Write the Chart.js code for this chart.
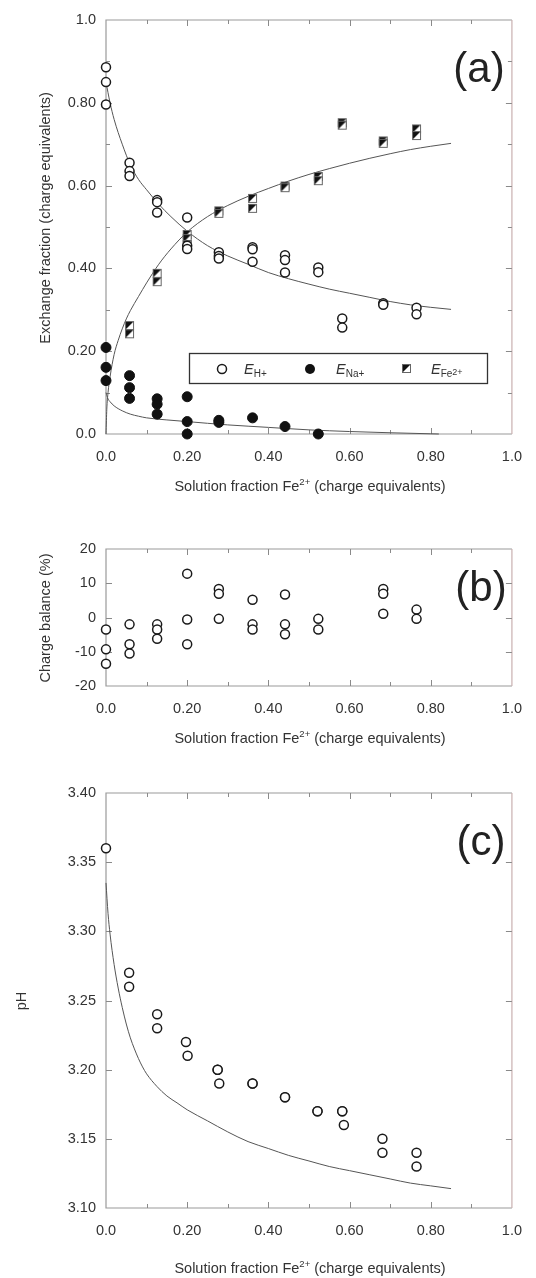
<!DOCTYPE html>
<html>
<head>
<meta charset="utf-8">
<script src="https://cdn.jsdelivr.net/npm/chart.js@4.4.0/dist/chart.umd.min.js"></script>
<style>
  body { margin: 0; background: #fff; width: 536px; height: 1278px; position: relative; overflow: hidden; }
  canvas { position: absolute; left: 0; }
</style>
</head>
<body>
<canvas id="chartA" width="536" height="500" style="top:0px"></canvas>
<canvas id="chartB" width="536" height="250" style="top:500px"></canvas>
<canvas id="chartC" width="536" height="528" style="top:750px"></canvas>
<script>
// tick labels
const xTickLabels = ["0.0", "0.20", "0.40", "0.60", "0.80", "1.0"];
const yTickLabelsA = ["0.0", "0.20", "0.40", "0.60", "0.80", "1.0"];
const yTickLabelsB = ["-20", "-10", "0", "10", "20"];
const yTickLabelsC = ["3.10", "3.15", "3.20", "3.25", "3.30", "3.35", "3.40"];

// (a) exchange fractions, measured
const hX = [0, 0, 0, 0.058, 0.058, 0.058, 0.126, 0.126, 0.126, 0.2, 0.2, 0.2, 0.278, 0.278, 0.278, 0.361, 0.361, 0.361, 0.441, 0.441, 0.441, 0.523, 0.523, 0.582, 0.582, 0.683, 0.683, 0.765, 0.765];
const hY = [0.886, 0.850, 0.796, 0.655, 0.635, 0.623, 0.565, 0.560, 0.535, 0.523, 0.455, 0.447, 0.439, 0.430, 0.424, 0.451, 0.446, 0.416, 0.432, 0.420, 0.390, 0.402, 0.391, 0.279, 0.257, 0.316, 0.312, 0.305, 0.289];
const naX = [0, 0, 0, 0.058, 0.058, 0.058, 0.126, 0.126, 0.126, 0.2, 0.2, 0.2, 0.278, 0.278, 0.361, 0.441, 0.523];
const naY = [0.209, 0.161, 0.129, 0.141, 0.112, 0.086, 0.085, 0.072, 0.048, 0.090, 0.030, 0.0, 0.033, 0.028, 0.039, 0.018, 0.0];
const feX = [0.058, 0.058, 0.126, 0.126, 0.2, 0.2, 0.2, 0.278, 0.278, 0.361, 0.361, 0.441, 0.441, 0.523, 0.523, 0.582, 0.582, 0.683, 0.683, 0.765, 0.765];
const feY = [0.262, 0.242, 0.388, 0.368, 0.482, 0.472, 0.458, 0.539, 0.533, 0.569, 0.545, 0.599, 0.595, 0.622, 0.612, 0.752, 0.746, 0.708, 0.702, 0.737, 0.721];

// (a) model curves
const hCurveX = [0, 0.01, 0.02, 0.04, 0.06, 0.08, 0.1, 0.13, 0.16, 0.2, 0.25, 0.3, 0.35, 0.4, 0.45, 0.5, 0.55, 0.6, 0.65, 0.7, 0.75, 0.8, 0.85];
const hCurveY = [0.85, 0.80, 0.76, 0.70, 0.65, 0.615, 0.59, 0.555, 0.525, 0.49, 0.455, 0.43, 0.41, 0.39, 0.375, 0.362, 0.35, 0.34, 0.33, 0.32, 0.312, 0.306, 0.301];
const feCurveX = [0, 0.002, 0.005, 0.01, 0.02, 0.03, 0.04, 0.05, 0.06, 0.08, 0.1, 0.13, 0.16, 0.2, 0.25, 0.3, 0.35, 0.4, 0.45, 0.5, 0.55, 0.6, 0.65, 0.7, 0.75, 0.8, 0.85];
const feCurveY = [0, 0.06, 0.1, 0.138, 0.192, 0.226, 0.254, 0.278, 0.298, 0.332, 0.365, 0.41, 0.447, 0.488, 0.525, 0.552, 0.574, 0.593, 0.611, 0.627, 0.641, 0.654, 0.666, 0.677, 0.687, 0.695, 0.702];
const naCurveX = [0, 0.005, 0.01, 0.02, 0.04, 0.06, 0.08, 0.1, 0.15, 0.2, 0.3, 0.4, 0.5, 0.6, 0.7, 0.8, 0.82];
const naCurveY = [0.1, 0.085, 0.078, 0.068, 0.056, 0.048, 0.043, 0.039, 0.034, 0.03, 0.022, 0.016, 0.01, 0.006, 0.003, 0.0005, 0];

// (b) charge balance
const cbX = [0, 0, 0, 0.058, 0.058, 0.058, 0.126, 0.126, 0.126, 0.2, 0.2, 0.2, 0.278, 0.278, 0.278, 0.361, 0.361, 0.361, 0.441, 0.441, 0.441, 0.523, 0.523, 0.683, 0.683, 0.683, 0.765, 0.765];
const cbY = [-3.5, -9.3, -13.5, -2.0, -7.8, -10.5, -2.0, -3.5, -6.2, 12.8, -0.6, -7.8, 8.3, 6.9, -0.4, 5.2, -2.0, -3.5, 6.7, -2.0, -4.9, -0.4, -3.5, 8.3, 6.9, 1.1, 2.3, -0.4];

// (c) pH
const phX = [0, 0.057, 0.057, 0.126, 0.126, 0.197, 0.201, 0.275, 0.275, 0.279, 0.361, 0.361, 0.441, 0.441, 0.521, 0.521, 0.582, 0.582, 0.586, 0.681, 0.681, 0.765, 0.765];
const phY = [3.36, 3.27, 3.26, 3.24, 3.23, 3.22, 3.21, 3.20, 3.20, 3.19, 3.19, 3.19, 3.18, 3.18, 3.17, 3.17, 3.17, 3.17, 3.16, 3.15, 3.14, 3.14, 3.13];
const phCurveX = [0, 0.005, 0.01, 0.02, 0.03, 0.04, 0.05, 0.06, 0.07, 0.08, 0.09, 0.1, 0.125, 0.15, 0.175, 0.2, 0.25, 0.3, 0.35, 0.4, 0.45, 0.5, 0.55, 0.6, 0.65, 0.7, 0.75, 0.8, 0.85];
const phCurveY = [3.335, 3.313, 3.298, 3.276, 3.259, 3.245, 3.233, 3.223, 3.215, 3.208, 3.202, 3.197, 3.188, 3.181, 3.176, 3.171, 3.163, 3.155, 3.148, 3.143, 3.138, 3.134, 3.13, 3.127, 3.124, 3.121, 3.118, 3.116, 3.114];

const FONT = '"Liberation Sans", Arial, sans-serif';
const TXT = '#333';

function pts(xs, ys) {
  return xs.map((x, i) => ({ x: x, y: ys[i] }));
}

// half filled square for Fe2+
function feMarker() {
  const c = document.createElement('canvas');
  c.width = 11; c.height = 11;
  const g = c.getContext('2d');
  g.fillStyle = '#fff';
  g.fillRect(1, 1, 9, 9);
  g.fillStyle = '#111';
  g.beginPath(); g.moveTo(1, 1); g.lineTo(10, 1); g.lineTo(1, 10); g.closePath(); g.fill();
  g.strokeStyle = '#666'; g.lineWidth = 1;
  g.strokeRect(1.5, 1.5, 8, 8);
  return c;
}
const feImg = feMarker();

function openPts(data) {
  return { data: data, pointStyle: 'circle', pointRadius: 4.5, borderWidth: 1.5, borderColor: '#1a1a1a', backgroundColor: '#fff', order: 1, clip: false };
}
function curve(data) {
  return { data: data, showLine: true, pointRadius: 0, borderWidth: 1, borderColor: '#555', cubicInterpolationMode: 'monotone', order: 5, clip: false };
}

// text with a raised / lowered part
function drawRich(ctx, parts, x, y, align) {
  let w = 0;
  parts.forEach(p => { ctx.font = p.style + ' ' + p.size + 'px ' + FONT; w += ctx.measureText(p.t).width; });
  let cx = align === 'center' ? x - w / 2 : x;
  parts.forEach(p => {
    ctx.font = p.style + ' ' + p.size + 'px ' + FONT;
    ctx.fillText(p.t, cx, y + p.dy);
    cx += ctx.measureText(p.t).width;
  });
}

function xTitle(ctx, cx, cy) {
  ctx.fillStyle = TXT;
  ctx.textBaseline = 'middle';
  drawRich(ctx, [
    { t: 'Solution fraction Fe', size: 14.5, style: 'normal', dy: 0 },
    { t: '2+', size: 9.5, style: 'normal', dy: -5 },
    { t: ' (charge equivalents)', size: 14.5, style: 'normal', dy: 0 }
  ], cx, cy, 'center');
}

function yTitle(ctx, text, cx, cy) {
  ctx.save();
  ctx.translate(cx, cy);
  ctx.rotate(-Math.PI / 2);
  ctx.fillStyle = TXT;
  ctx.textAlign = 'center';
  ctx.textBaseline = 'middle';
  ctx.font = '14.5px ' + FONT;
  ctx.fillText(text, 0, 0);
  ctx.restore();
}

function panelPlugin(cfg) {
  return {
    id: 'panel' + cfg.letter,
    beforeDatasetsDraw(chart) {
      const { ctx, chartArea: a, scales: { x, y } } = chart;
      ctx.save();
      ctx.lineWidth = 1.2;
      ctx.strokeStyle = '#9a9a9a';
      ctx.beginPath();
      ctx.moveTo(a.right, a.top); ctx.lineTo(a.left, a.top); ctx.lineTo(a.left, a.bottom); ctx.lineTo(a.right, a.bottom);
      ctx.stroke();
      ctx.strokeStyle = '#c9b0b0';
      ctx.beginPath(); ctx.moveTo(a.right, a.top); ctx.lineTo(a.right, a.bottom); ctx.stroke();
      ctx.lineWidth = 1;
      ctx.strokeStyle = '#8a8a8a';
      ctx.beginPath();
      cfg.xTicks.forEach(t => {
        const px = Math.round(x.getPixelForValue(t.v)) + 0.5;
        ctx.moveTo(px, a.bottom); ctx.lineTo(px, a.bottom - t.len);
        ctx.moveTo(px, a.top); ctx.lineTo(px, a.top + t.len);
      });
      cfg.yTicks.forEach(t => {
        const py = Math.round(y.getPixelForValue(t.v)) + 0.5;
        ctx.moveTo(a.left, py); ctx.lineTo(a.left + t.len, py);
        ctx.moveTo(a.right, py); ctx.lineTo(a.right - t.len, py);
      });
      ctx.stroke();
      ctx.restore();
    },
    afterDraw(chart) {
      const ctx = chart.ctx;
      ctx.save();
      xTitle(ctx, cfg.xTitleX, cfg.xTitleY);
      yTitle(ctx, cfg.yTitle, cfg.yTitleX, cfg.yTitleY);
      ctx.fillStyle = '#222';
      ctx.textAlign = 'center';
      ctx.textBaseline = 'alphabetic';
      ctx.font = '42px ' + FONT;
      ctx.fillText('(' + cfg.letter + ')', cfg.letterX, cfg.letterY);
      if (cfg.legend) cfg.legend(ctx);
      ctx.restore();
    }
  };
}

function legendA(ctx) {
  ctx.lineWidth = 1.3;
  ctx.strokeStyle = '#333';
  ctx.strokeRect(189.5, 353.5, 298, 30);
  const cy = 369;
  // open circle
  ctx.beginPath(); ctx.arc(222, cy, 4.5, 0, Math.PI * 2);
  ctx.fillStyle = '#fff'; ctx.fill(); ctx.lineWidth = 1.5; ctx.strokeStyle = '#1a1a1a'; ctx.stroke();
  // filled circle
  ctx.beginPath(); ctx.arc(310, cy, 5, 0, Math.PI * 2);
  ctx.fillStyle = '#111'; ctx.fill();
  ctx.drawImage(feImg, 401, cy - 6);
  ctx.fillStyle = TXT;
  ctx.textAlign = 'left';
  ctx.textBaseline = 'alphabetic';
  const base = cy + 5;
  drawRich(ctx, [{ t: 'E', size: 14.5, style: 'italic', dy: 0 }, { t: 'H+', size: 10, style: 'normal', dy: 3 }], 244, base, 'left');
  drawRich(ctx, [{ t: 'E', size: 14.5, style: 'italic', dy: 0 }, { t: 'Na+', size: 10, style: 'normal', dy: 3 }], 336, base, 'left');
  drawRich(ctx, [{ t: 'E', size: 14.5, style: 'italic', dy: 0 }, { t: 'Fe', size: 10, style: 'normal', dy: 3 }, { t: '2+', size: 9, style: 'normal', dy: 1 }], 431, base, 'left');
}

const xMinor = [0.1, 0.3, 0.5, 0.7, 0.9];
const xMajor = [0.2, 0.4, 0.6, 0.8];
function tickList(major, minor) {
  return major.map(v => ({ v: v, len: 6 })).concat(minor.map(v => ({ v: v, len: 4 })));
}

function xScale(height) {
  return {
    type: 'linear', min: 0, max: 1,
    grid: { display: false, drawTicks: false }, border: { display: false },
    ticks: {
      stepSize: 0.2, autoSkip: false, maxRotation: 0, padding: 14,
      color: TXT, font: { family: FONT, size: 14.5 },
      callback: (v) => xTickLabels[Math.round(v / 0.2)]
    },
    afterFit: (s) => { s.height = height; }
  };
}
function yScale(min, max, step, labels) {
  return {
    type: 'linear', min: min, max: max,
    grid: { display: false, drawTicks: false }, border: { display: false },
    ticks: {
      stepSize: step, autoSkip: false, padding: 10,
      color: TXT, font: { family: FONT, size: 14.5 },
      callback: (v) => labels[Math.round((v - min) / step)]
    },
    afterFit: (s) => { s.width = 106; }
  };
}
const baseOpts = {
  responsive: false, animation: false,
  plugins: { legend: { display: false }, tooltip: { enabled: false } }
};

// panel (a)
new Chart(document.getElementById('chartA'), {
  type: 'scatter',
  data: {
    datasets: [
      curve(pts(hCurveX, hCurveY)),
      curve(pts(feCurveX, feCurveY)),
      curve(pts(naCurveX, naCurveY)),
      openPts(pts(hX, hY)),
      { data: pts(naX, naY), pointStyle: 'circle', pointRadius: 5, borderWidth: 1, borderColor: '#111', backgroundColor: '#111', order: 1, clip: false },
      { data: pts(feX, feY), pointStyle: feImg, order: 1, clip: false }
    ]
  },
  options: Object.assign({}, baseOpts, {
    layout: { padding: { top: 20, right: 14, left: 0, bottom: 0 } },
    scales: { x: xScale(66), y: yScale(0, 1, 0.2, yTickLabelsA) }
  }),
  plugins: [panelPlugin({
    letter: 'a', letterX: 479, letterY: 82,
    xTicks: tickList(xMajor, xMinor),
    yTicks: tickList([0.2, 0.4, 0.6, 0.8], [0.1, 0.3, 0.5, 0.7, 0.9]),
    xTitleX: 310, xTitleY: 487,
    yTitle: 'Exchange fraction (charge equivalents)', yTitleX: 46, yTitleY: 218,
    legend: legendA
  })]
});

// panel (b)
new Chart(document.getElementById('chartB'), {
  type: 'scatter',
  data: { datasets: [openPts(pts(cbX, cbY))] },
  options: Object.assign({}, baseOpts, {
    layout: { padding: { top: 49, right: 14, left: 0, bottom: 0 } },
    scales: { x: xScale(64), y: yScale(-20, 20, 10, yTickLabelsB) }
  }),
  plugins: [panelPlugin({
    letter: 'b', letterX: 481, letterY: 101,
    xTicks: tickList(xMajor, xMinor),
    yTicks: tickList([-10, 0, 10], []),
    xTitleX: 310, xTitleY: 239,
    yTitle: 'Charge balance (%)', yTitleX: 46, yTitleY: 118
  })]
});

// panel (c)
new Chart(document.getElementById('chartC'), {
  type: 'scatter',
  data: { datasets: [curve(pts(phCurveX, phCurveY)), openPts(pts(phX, phY))] },
  options: Object.assign({}, baseOpts, {
    layout: { padding: { top: 43, right: 14, left: 0, bottom: 0 } },
    scales: { x: xScale(70), y: yScale(3.1, 3.4, 0.05, yTickLabelsC) }
  }),
  plugins: [panelPlugin({
    letter: 'c', letterX: 481, letterY: 105,
    xTicks: tickList(xMajor, xMinor),
    yTicks: tickList([3.15, 3.2, 3.25, 3.3, 3.35], []),
    xTitleX: 310, xTitleY: 519,
    yTitle: 'pH', yTitleX: 22, yTitleY: 251
  })]
});
</script>
</body>
</html>
